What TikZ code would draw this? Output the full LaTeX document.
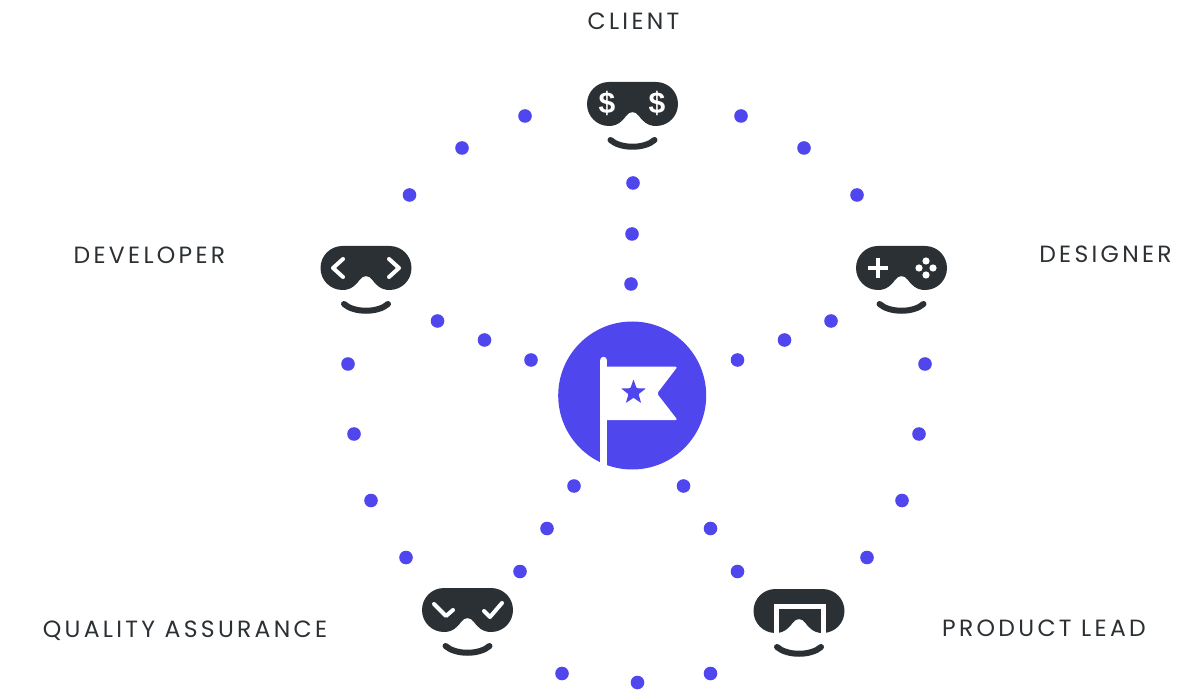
\documentclass[tikz,border=0pt]{standalone}
\usepackage{fontspec}
\setmainfont[LetterSpace=14]{Poppins}
\usetikzlibrary{shapes.geometric}
\definecolor{ink}{HTML}{2A3033}
\definecolor{brand}{HTML}{4F46EE}
\newfontfamily\dollarfont{Liberation Sans}[LetterSpace=0]
\tikzset{
  x=1pt,y=-1pt,
  dotmark/.style={circle,fill=brand,draw=none,minimum size=13.6pt,inner sep=0pt},
  rolelabel/.style={text=ink,font=\fontsize{23.5}{26}\selectfont,inner sep=0pt,anchor=base},
  dollarmark/.style={text=white,font=\dollarfont\bfseries\fontsize{30}{30}\selectfont,inner sep=0pt},
  icon/.style={draw=white,line width=4pt,line cap=round,line join=round},
  pics/maskbase/.style={code={
    \fill[ink] (-23.5,-22) -- (23.5,-22)
      .. controls (36,-22) and (45.5,-12) .. (45.5,0)
      .. controls (45.5,12) and (36,22) .. (23.5,22)
      .. controls (14,22) and (9.5,16) .. (6,11.5)
      .. controls (3,7) and (-3,7) .. (-6,11.5)
      .. controls (-9.5,16) and (-14,22) .. (-23.5,22)
      .. controls (-36,22) and (-45.5,12) .. (-45.5,0)
      .. controls (-45.5,-12) and (-36,-22) .. (-23.5,-22) -- cycle;
    \draw[ink,line width=6pt,line cap=round] (-22,36) .. controls (-12,45) and (12,45) .. (22,36);
  }}
}
\begin{document}
\begin{tikzpicture}
\useasboundingbox (0,0) rectangle (1194,692);
% dots
\foreach \n/\px/\py in {
 a1/525/116,a2/462/148,a3/409.5/195,a4/741/116,a5/804/148,a6/857/195,
 b1/633/183,b2/632/234,b3/631/284,
 c1/437.5/321,c2/484.5/340,c3/531/360,
 d1/831/321,d2/784.5/340,d3/737.5/360,
 e1/348/364,e2/354/434,e3/371/500.5,e4/406/557.5,
 f1/925/364,f2/919/434,f3/902/500.5,f4/867/557.5,
 g1/574/486,g2/547/528.5,g3/520/571.5,
 h1/683.5/486,h2/710.5/528.5,h3/737.5/571.5,
 i1/562/673.5,i2/637.5/682.5,i3/710.5/673.5}
  \node[dotmark] (dot\n) at (\px,\py) {};
% hub
\node[circle,fill=brand,minimum size=148pt,inner sep=0pt] (hub) at (632.2,395.5) {};
\fill[white,rounded corners=2pt] (604,366.7) -- (677.5,366.7) -- (657,393.5) -- (677.5,420) -- (604,420) -- cycle;
\draw[white,line width=7.4pt,line cap=round] (603.7,360.5) -- (603.7,466);
\node[star,star points=5,star point ratio=2.45,fill=brand,minimum size=26pt,inner sep=0pt,rounded corners=0.6pt] (hubstar) at (633.5,392.5) {};
% client
\pic (client) at (632.5,104) {maskbase};
\node[dollarmark] (clientl) at (607,103) {\$};
\node[dollarmark] (clientr) at (657,103) {\$};
% designer
\begin{scope}[shift={(901.5,268)}]
\pic (designer) at (0,0) {maskbase};
\draw[icon,line cap=butt] (-34,0) -- (-14,0) (-24,-10) -- (-24,10);
\foreach \dx/\dy in {0/-7,0/7,-7/0,7/0} \fill[white] (24.5+\dx,\dy) circle (3.6);
\end{scope}
% developer
\begin{scope}[shift={(366,268)}]
\pic (developer) at (0,0) {maskbase};
\draw[icon] (-23,-9) -- (-33,0) -- (-23,9);
\draw[icon] (23,-9) -- (33,0) -- (23,9);
\end{scope}
% QA
\begin{scope}[shift={(467.5,610)}]
\pic (qa) at (0,0) {maskbase};
\draw[icon] (-33.5,-6) -- (-21.5,6) -- (-14.5,0);
\draw[icon] (16.5,1) -- (22.5,7) -- (34.5,-7);
\end{scope}
% product lead
\begin{scope}[shift={(799,611)}]
\pic (lead) at (0,0) {maskbase};
\draw[draw=white,line width=5pt,line join=miter] (-23,29) -- (-23,-5) -- (24,-5) -- (24,29);
\end{scope}
% labels
\node[rolelabel] (client label) at (633.5,30) {CLIENT};
\node[rolelabel] (developer label) at (149.5,264) {DEVELOPER};
\node[rolelabel] (designer label) at (1105.5,263) {DESIGNER};
\node[rolelabel] (qa label) at (185,637) {QUALITY ASSURANCE};
\node[rolelabel] (lead label) at (1044,636) {PRODUCT LEAD};
\end{tikzpicture}
\end{document}
